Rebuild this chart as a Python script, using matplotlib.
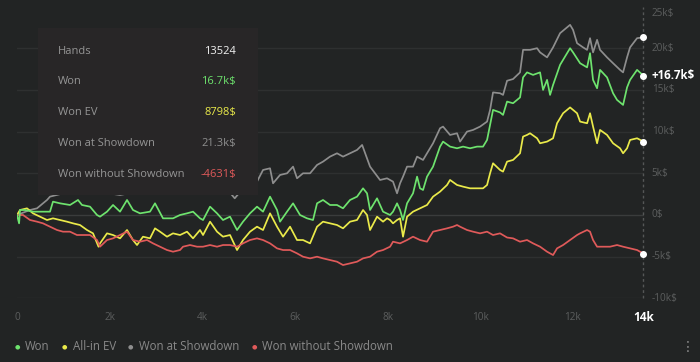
import matplotlib.pyplot as plt
from matplotlib.patches import Rectangle

plt.rcParams['font.family'] = ['Open Sans', 'DejaVu Sans']

BG = '#222424'
GREEN = '#6ee36e'
YELLOW = '#eaea4a'
GRAY = '#8e8e8e'
RED = '#e05a5a'

# hands, k$
won_x = [0, 45, 65, 173, 345, 561, 712, 777, 928, 1144, 1317, 1403, 1576, 1727, 1792, 1943,
         2073, 2224, 2375, 2504, 2655, 2871, 2979, 3152, 3368, 3519, 3670, 3800, 3951, 4016,
         4167, 4318, 4447, 4598, 4750, 4879, 5030, 5181, 5311, 5462, 5613, 5678, 5829, 5959,
         6110, 6261, 6390, 6477, 6606, 6757, 6908, 7038, 7189, 7340, 7470, 7556, 7621, 7772,
         7902, 8053, 8117, 8204, 8269, 8333, 8420, 8549, 8636, 8700, 8765, 8851, 8981, 9132,
         9197, 9348, 9499, 9629, 9780, 9931, 10060, 10147, 10212, 10276, 10427, 10492, 10579,
         10708, 10859, 10924, 11010, 11140, 11291, 11356, 11442, 11507, 11572, 11723, 11874,
         11939, 12003, 12155, 12306, 12370, 12435, 12522, 12586, 12737, 12867, 12953, 13083,
         13169, 13234, 13385, 13524]
won_y = [0, -1.0, 0.6, 0.6, 0.4, 0.4, 0.4, 1.6, 1.4, 1.2, 1.8, 1.2, 1.0, 0, -0.2, 0.4,
         1.2, 0.4, 1.8, 0.6, 0.2, 0.4, 1.4, -0.4, -0.4, 0, 0.2, 0.4, -0.4, -0.6,
         1.0, 0.2, -0.6, -0.2, -1.8, -0.8, 0.2, 1.0, 0.4, 2.2, 0.6, -0.8, 0.4, 1.4,
         0, -0.4, -0.6, 1.4, 1.8, 1.2, 1.2, 0.8, 1.8, 2.2, 3.2, 2.6, 0.6, 2.0,
         0.4, 0, 0.4, 1.4, 0.6, -0.6, 1.4, 2.6, 4.6, 3.2, 3.0, 4.6, 5.8, 8.2,
         8.8, 8.2, 8.0, 8.2, 8.0, 8.2, 8.2, 9.0, 10.8, 12.6, 12.3, 12.0, 13.6,
         13.4, 14.1, 16.5, 17.1, 16.8, 17.1, 15.0, 16.2, 14.4, 15.6, 18.0, 19.4,
         20.0, 19.5, 18.2, 17.7, 19.4, 16.2, 15.2, 17.4, 16.5, 14.6, 13.8, 13.2,
         15.3, 16.2, 17.4, 16.7]

ev_x = [0, 65, 216, 345, 497, 648, 777, 928, 1079, 1209, 1360, 1511, 1641, 1760, 1792, 1943,
        2073, 2224, 2375, 2504, 2591, 2720, 2871, 2979, 3087, 3238, 3368, 3519, 3670, 3800,
        3951, 4016, 4167, 4318, 4447, 4598, 4750, 4879, 5030, 5181, 5311, 5462, 5613, 5743,
        5894, 6045, 6174, 6326, 6477, 6606, 6757, 6908, 7038, 7189, 7340, 7470, 7556, 7621,
        7772, 7902, 7988, 8053, 8117, 8204, 8269, 8333, 8420, 8549, 8700, 8851, 8981, 9132,
        9283, 9348, 9499, 9629, 9780, 9931, 10060, 10147, 10212, 10276, 10427, 10492, 10579,
        10708, 10859, 10924, 11010, 11075, 11226, 11291, 11442, 11572, 11658, 11788, 11939,
        12090, 12155, 12306, 12370, 12435, 12522, 12586, 12737, 12867, 13018, 13083, 13169,
        13234, 13385, 13524]
ev_y = [0, 0.6, 0.8, 0.2, -0.2, -0.6, -0.4, -0.6, -0.8, -1.0, -1.2, -1.8, -2.2, -3.8, -3.4, -2.2,
        -2.4, -2.8, -1.8, -3.0, -3.6, -2.6, -2.8, -1.6, -2.0, -2.6, -2.2, -2.4, -2.0, -2.8,
        -1.8, -2.4, -0.8, -2.0, -2.6, -2.4, -4.2, -3.0, -2.0, -1.4, -1.8, 0.2, -1.4, -2.6,
        -1.4, -3.0, -3.0, -3.4, -1.4, -0.8, -1.0, -1.2, -1.6, -0.8, -0.6, 0.6, 0, -1.8,
        -0.2, -0.8, -0.4, -0.6, -1.0, -0.6, -0.4, -2.6, -0.2, 0.4, 0.8, 1.2, 2.2, 2.8,
        3.6, 4.2, 3.6, 3.4, 3.2, 3.2, 3.2, 3.6, 5.0, 6.2, 5.4, 5.2, 6.4,
        6.6, 7.4, 9.4, 9.6, 9.8, 9.2, 8.6, 8.8, 9.2, 11.0, 12.2, 12.9,
        12.2, 11.2, 11.0, 12.2, 10.6, 8.6, 10.2, 9.6, 8.6, 8.0, 7.4, 8.0,
        9.0, 9.2, 8.8]

sd_x = [0, 281, 432, 561, 648, 712, 1000, 1500, 2224, 3000, 4000, 4550, 4700, 4850, 5181,
        5311, 5462, 5527, 5678, 5829, 5959, 6045, 6174, 6326, 6477, 6606, 6757, 6908, 7038,
        7189, 7340, 7450, 7621, 7837, 7988, 8117, 8204, 8269, 8333, 8420, 8549, 8636, 8765,
        8851, 8981, 9132, 9197, 9348, 9499, 9564, 9715, 9845, 9996, 10147, 10212, 10276,
        10427, 10492, 10579, 10708, 10859, 10924, 11075, 11226, 11291, 11442, 11572, 11723,
        11874, 11939, 12003, 12090, 12219, 12306, 12370, 12435, 12522, 12586, 12737, 12867,
        13018, 13083, 13169, 13234, 13385, 13524]
sd_y = [0, 0.6, 0.8, 1.4, 1.8, 2.2, 2.6, 3.0, 2.4, 3.2, 3.6, 3.0, 2.0, 3.0, 4.0,
        5.4, 5.6, 3.8, 4.8, 5.0, 5.8, 4.4, 5.0, 5.0, 6.0, 6.4, 7.0, 7.4, 7.0,
        7.4, 7.8, 8.4, 5.8, 4.2, 4.4, 4.0, 2.6, 3.8, 4.6, 5.8, 5.8, 7.0, 6.6,
        7.4, 8.6, 10.4, 10.6, 9.6, 9.8, 8.8, 10.0, 10.2, 10.6, 11.2, 12.6, 14.7,
        14.6, 14.4, 16.1, 16.3, 17.1, 19.8, 19.8, 20.0, 19.5, 18.9, 20.1, 21.8,
        22.5, 22.8, 22.2, 20.6, 20.1, 19.8, 21.2, 19.5, 21.0, 19.8, 18.9, 18.2,
        17.4, 17.1, 18.9, 20.1, 21.2, 21.3]

nsd_x = [0, 130, 281, 432, 561, 712, 864, 993, 1144, 1295, 1425, 1576, 1727, 1792, 1943, 2073,
         2224, 2375, 2504, 2655, 2807, 2936, 3087, 3238, 3368, 3519, 3584, 3735, 3886, 4016,
         4167, 4318, 4447, 4598, 4750, 4879, 5030, 5181, 5311, 5462, 5613, 5743, 5894, 6045,
         6174, 6326, 6477, 6606, 6757, 6908, 7038, 7189, 7340, 7470, 7621, 7772, 7902, 8053,
         8117, 8269, 8420, 8549, 8700, 8851, 8981, 9132, 9283, 9413, 9499, 9564, 9715, 9845,
         9996, 10147, 10276, 10427, 10579, 10708, 10859, 11010, 11140, 11291, 11442, 11572,
         11658, 11788, 11939, 12090, 12155, 12306, 12370, 12435, 12522, 12651, 12802, 12953,
         13083, 13234, 13385, 13524]
nsd_y = [0, 0, -0.6, -0.8, -1.0, -1.4, -1.8, -2.0, -2.0, -2.4, -2.4, -2.4, -3.0, -3.8, -3.0, -2.8,
         -2.4, -2.0, -3.0, -3.2, -3.0, -3.4, -3.8, -4.2, -4.4, -4.2, -3.8, -3.6, -3.8, -3.8,
         -3.6, -3.8, -3.6, -3.6, -3.8, -3.4, -3.0, -2.8, -3.0, -3.4, -4.0, -4.2, -4.2, -4.6,
         -5.0, -5.2, -5.0, -5.2, -5.4, -5.6, -6.0, -5.8, -5.6, -5.2, -5.0, -4.4, -4.2, -3.8,
         -3.2, -3.4, -3.0, -2.6, -3.0, -3.2, -2.0, -1.8, -1.6, -1.4, -1.2, -1.4, -1.8, -2.0,
         -2.2, -2.0, -2.4, -2.2, -2.7, -2.8, -3.2, -3.0, -3.4, -3.8, -4.4, -4.8,
         -4.0, -3.6, -3.0, -2.4, -2.2, -1.8, -2.0, -3.0, -3.8, -3.8, -3.8, -3.6,
         -3.8, -4.0, -4.2, -4.631]

x_ticks = [0, 2000, 4000, 6000, 8000, 10000, 12000]
x_labels = ['0', '2k', '4k', '6k', '8k', '10k', '12k']
y_ticks = [25, 20, 15, 10, 5, 0, -5, -10]
y_labels = ['25k$', '20k$', '15k$', '10k$', '5k$', '0$', '-5k$', '-10k$']

tip_labels = ['Hands', 'Won', 'Won EV', 'Won at Showdown', 'Won without Showdown']
tip_values = ['13524', '16.7k$', '8798$', '21.3k$', '-4631$']
tip_colors = ['#f2f2f2', GREEN, YELLOW, GRAY, RED]

legend_names = ['Won', 'All-in EV', 'Won at Showdown', 'Won without Showdown']
legend_colors = [GREEN, YELLOW, GRAY, RED]
last_hand = 13524

fig = plt.figure(figsize=(7, 3.62), dpi=100, facecolor=BG)
ax = fig.add_axes([17 / 700, 1 - 298.4 / 362, 626.5 / 700, 291.9 / 362])
ax.set_facecolor(BG)
ax.set_xlim(0, last_hand)
ax.set_ylim(-10, 25)
for s in ax.spines.values():
    s.set_visible(False)
ax.set_xticks([])
ax.set_yticks([])

for v in y_ticks[1:]:
    ax.axhline(v, color='#3a3c3c' if v == 0 else '#2e3030', lw=1, zorder=1)
ax.axvline(last_hand, color='#555757', lw=1, ls=(0, (2, 2)), zorder=1, clip_on=False)

ax.plot(sd_x, sd_y, color=GRAY, lw=1.25, zorder=3)
ax.plot(won_x, won_y, color=GREEN, lw=1.25, zorder=4)
ax.plot(ev_x, ev_y, color=YELLOW, lw=1.25, zorder=3)
ax.plot(nsd_x, nsd_y, color=RED, lw=1.25, zorder=3)
for ys in (won_y, ev_y, sd_y, nsd_y):
    ax.plot([last_hand], [ys[-1]], 'o', color='white', ms=4, zorder=6, clip_on=False)

ax.annotate('+16.7k$', (last_hand, won_y[-1]), xytext=(6, 0), textcoords='offset points',
            color='white', fontsize=8.3, fontweight='bold', va='center', ha='left',
            annotation_clip=False)

# y labels on the right
for v, lab in zip(y_ticks, y_labels):
    ax.annotate(lab, (last_hand, v), xytext=(6, -5 if v == 25 else 0),
                textcoords='offset points', color='#5c5e5e', fontsize=7.2,
                va='center', ha='left', annotation_clip=False)

# x labels
for v, lab in zip(x_ticks, x_labels):
    ax.annotate(lab, (v, -10), xytext=(0, -14), textcoords='offset points',
                color='#5c5e5e', fontsize=7.2, ha='center', va='center',
                annotation_clip=False)
ax.annotate('14k', (last_hand, -10), xytext=(0, -14), textcoords='offset points',
            color='white', fontsize=8.5, fontweight='bold', ha='center', va='center',
            annotation_clip=False)

# tooltip box
fig.patches.append(Rectangle((38 / 700, 1 - 195 / 362), 220 / 700, 167 / 362,
                             transform=fig.transFigure, facecolor='#282627',
                             edgecolor='none', zorder=10))
for i, (lab, val, col) in enumerate(zip(tip_labels, tip_values, tip_colors)):
    ypx = 51 + i * 30.8
    fig.text(58 / 700, 1 - ypx / 362, lab, color='#959595', fontsize=8,
             va='center', ha='left', zorder=11)
    fig.text(236 / 700, 1 - ypx / 362, val, color=col, fontsize=8,
             va='center', ha='right', zorder=11)

# legend
xpos = 17
for name, col in zip(legend_names, legend_colors):
    fig.text(xpos / 700, 1 - 347 / 362, '\u25CF', color=col, fontsize=4.5,
             va='center', ha='center')
    t = fig.text((xpos + 8) / 700, 1 - 347 / 362, name, color='#8a8a8a',
                 fontsize=8.3, va='center', ha='left')
    fig.canvas.draw()
    bb = t.get_window_extent()
    xpos = bb.x1 + 15
fig.text(688 / 700, 1 - 347 / 362, '\u22EE', color='#8a8a8a', fontsize=10,
         va='center', ha='center')

fig.savefig('out.png', dpi=100, facecolor=BG)
